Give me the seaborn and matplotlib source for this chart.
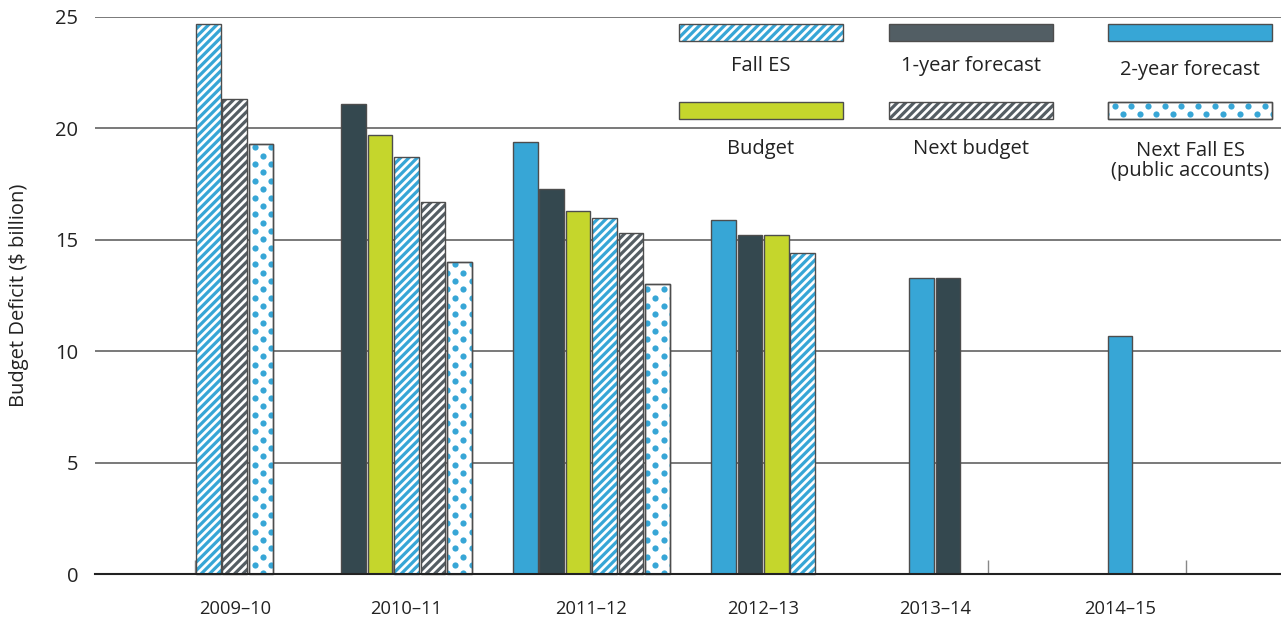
import numpy as np
import pandas as pd
import matplotlib
matplotlib.use("Agg")
import matplotlib.pyplot as plt
from matplotlib.patches import Rectangle
from matplotlib.ticker import FixedLocator, NullFormatter
import seaborn as sns

# Donnees ($ milliards)
years = ["2009–10", "2010–11", "2011–12", "2012–13", "2013–14", "2014–15"]
series = ["2-year forecast", "1-year forecast", "Budget", "Fall ES",
          "Next budget", "Next Fall ES\n(public accounts)"]

two_year = [np.nan, np.nan, 19.4, 15.9, 13.3, 10.7]
one_year = [np.nan, 21.1, 17.3, 15.2, 13.3, np.nan]
budget = [np.nan, 19.7, 16.3, 15.2, np.nan, np.nan]
fall_es = [24.7, 18.7, 16.0, 14.4, np.nan, np.nan]
next_budget = [21.3, 16.7, 15.3, np.nan, np.nan, np.nan]
next_fall_es = [19.3, 14.0, 13.0, np.nan, np.nan, np.nan]

valeurs = [two_year, one_year, budget, fall_es, next_budget, next_fall_es]

BLUE = "#37a6d6"
DARK = "#34484f"
LIME = "#c5d62c"
GREY = "#555e64"
EDGE = "#4d4d4d"

lignes = []
for s, vals in zip(series, valeurs):
    for y, v in zip(years, vals):
        if not np.isnan(v):
            lignes.append({"annee": y, "serie": s, "valeur": v})
df = pd.DataFrame(lignes)

sns.set_style("white")
plt.rcParams["font.family"] = ["Open Sans", "DejaVu Sans"]
plt.rcParams["hatch.linewidth"] = 2.3

fig = plt.figure(figsize=(12.81, 6.18), dpi=100)
ax = fig.add_axes([95 / 1281, 1 - 574 / 618, 1186 / 1281, 557 / 618])

couleurs = {series[0]: BLUE, series[1]: DARK, series[2]: LIME,
            series[3]: "white", series[4]: "white", series[5]: "white"}

sns.barplot(data=df, x="annee", y="valeur", hue="serie", order=years,
            hue_order=series, palette=couleurs, saturation=1, width=0.8,
            gap=0.07, edgecolor=EDGE, linewidth=1, legend=False, ax=ax)

ax.set_xlim(-0.505, 5.48)
ax.set_ylim(0, 25)
ax.set_axisbelow(True)


def ajoute_points(ax, patch, zorder):
    # motif de points en quinconce, decoupe sur la barre
    bb = patch.get_window_extent()
    pas_x, pas_y = 16.7, 8.35
    pts = []
    r0 = int(np.floor(bb.y0 / pas_y)) - 1
    r1 = int(np.ceil(bb.y1 / pas_y)) + 1
    for r in range(r0, r1):
        dec = (r % 2) * pas_x / 2
        c0 = int(np.floor(bb.x0 / pas_x)) - 1
        c1 = int(np.ceil(bb.x1 / pas_x)) + 1
        for c in range(c0, c1):
            pts.append((c * pas_x + dec + 4, r * pas_y + 3))
    pts = ax.transData.inverted().transform(np.array(pts))
    sc = ax.scatter(pts[:, 0], pts[:, 1], s=20, color=BLUE, linewidths=0,
                    zorder=zorder)
    sc.set_clip_path(patch)


def contour(ax, patch):
    r = Rectangle(patch.get_xy(), patch.get_width(), patch.get_height(),
                  fill=False, edgecolor=EDGE, linewidth=1,
                  transform=patch.get_data_transform(),
                  zorder=patch.get_zorder() + 0.2, clip_on=False)
    ax.add_patch(r)


def habille(ax, patch, nom):
    if nom in (series[3], series[4]):
        patch.set_facecolor("white")
        patch.set_edgecolor(BLUE if nom == series[3] else GREY)
        patch.set_hatch("////")
        patch.set_linewidth(0)
        contour(ax, patch)
    elif nom == series[5]:
        ajoute_points(ax, patch, patch.get_zorder() + 0.1)
        contour(ax, patch)


slot = 0.8 / len(series)
centres = {i: [] for i in range(len(years))}
for p in list(ax.patches):
    cx = p.get_x() + p.get_width() / 2
    cat = int(round(cx))
    k = int(round((cx - cat) / slot + 2.5))
    centres[cat].append(cx)
    habille(ax, p, series[k])

# legende dessinee a la main : rectangles avec libelles dessous
leg_x = [679, 889, 1108]
leg_y = [24, 102]
leg_w, leg_h = 164, 17
leg_ordre = [[series[3], series[1], series[0]], [series[2], series[4], series[5]]]
leg_couleurs = {series[0]: BLUE, series[1]: "#525e64", series[2]: LIME}
leg_txt_y = [[66, 66, 70], [149, 149, 161]]

for r in range(2):
    for c in range(3):
        nom = leg_ordre[r][c]
        x0 = (leg_x[c] - 95) / 1186
        y0 = (574 - leg_y[r] - leg_h) / 557
        rect = Rectangle((x0, y0), leg_w / 1186, leg_h / 557,
                         transform=ax.transAxes, facecolor=leg_couleurs.get(nom, "white"),
                         edgecolor=EDGE, linewidth=1, zorder=3, clip_on=False)
        ax.add_patch(rect)
        habille(ax, rect, nom)
        ax.text((leg_x[c] + leg_w / 2 - 95) / 1186, (574 - leg_txt_y[r][c]) / 557,
                nom, transform=ax.transAxes, ha="center",
                va="center", fontsize=14.5, color="#222222", linespacing=1.0)

# axes et graduations
ax.set_yticks(range(0, 26, 5))
ax.yaxis.grid(True, color="#555555", linewidth=1.1)
ax.tick_params(axis="y", left=False, length=0, pad=12, labelsize=14.5,
               labelcolor="#222222")

ax.set_xticks(range(len(years)))
ax.xaxis.set_major_formatter(NullFormatter())
ax.tick_params(axis="x", which="major", bottom=True, direction="in", length=10,
               color="#888888", width=1)
ax.xaxis.remove_overlapping_locs = False
lab_pos = [np.mean(centres[i]) for i in range(len(years))]
ax.xaxis.set_minor_locator(FixedLocator(lab_pos))
ax.set_xticklabels(years, minor=True)
ax.tick_params(axis="x", which="minor", bottom=True, length=0, pad=19,
               labelsize=13.2, labelcolor="#222222")

for s in ["left", "right", "top"]:
    ax.spines[s].set_visible(False)
ax.spines["bottom"].set_color("#222222")
ax.spines["bottom"].set_linewidth(1.5)
ax.spines["bottom"].set_zorder(4)

ax.set_xlabel("")
ax.set_ylabel("Budget Deficit ($ billion)", fontsize=14.5, color="#222222")
ax.yaxis.set_label_coords(-0.056, 0.5)

fig.savefig("out.png", dpi=100)
